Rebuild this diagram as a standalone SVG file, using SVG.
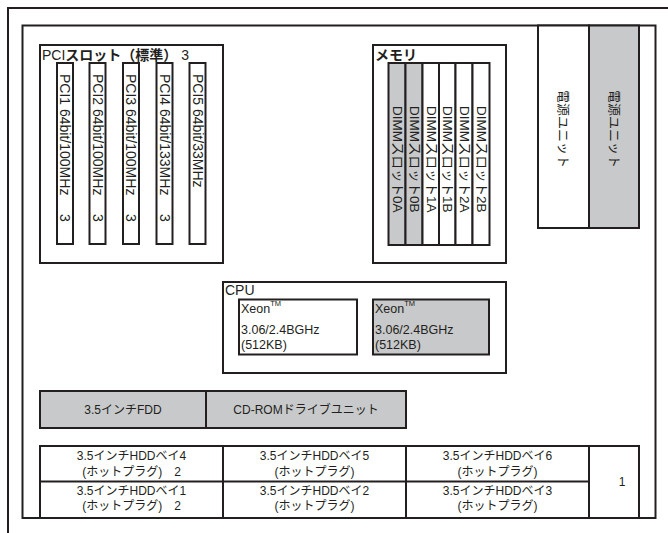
<svg xmlns="http://www.w3.org/2000/svg" width="668" height="533" viewBox="0 0 668 533">
<style>
text{font-family:"Liberation Sans","Noto Sans CJK JP",sans-serif;fill:#231f20}
.ln{fill:none;stroke:#231f20;stroke-width:2}
.bx{fill:#fff;stroke:#231f20;stroke-width:2}
.gr{fill:#c8c9ca;stroke:#231f20;stroke-width:2}
.dv{stroke:#231f20;stroke-width:2}
.v{font-size:14px;dominant-baseline:central}
.d{font-size:13.5px;dominant-baseline:central}
.p{font-size:13px;dominant-baseline:central}
.t{font-size:14px}
.s{font-size:12.5px}
.h{font-size:12px;text-anchor:middle}
.b{font-weight:bold}
</style>
<rect width="668" height="533" fill="#fff"/>
<g id="frame">
<polyline class="ln" points="8,533 8,8 668,8"/>
<rect class="ln" x="22.5" y="25.5" width="633" height="492.5"/>
</g>
<g id="connectors"/>
<g id="pci">
<rect class="bx" x="40" y="45" width="183" height="218"/>
<text class="t" x="42" y="60">PCI<tspan class="b">スロット（標準）</tspan> 3</text>
<rect class="bx" x="57" y="63" width="16" height="181"/>
<rect class="bx" x="89.5" y="63" width="16" height="181"/>
<rect class="bx" x="123" y="63" width="16" height="181"/>
<rect class="bx" x="156.5" y="63" width="16" height="181"/>
<rect class="bx" x="189.5" y="63" width="16" height="181"/>
<text class="v" transform="translate(65,74) rotate(90)">PCI1 64bit/100MHz<tspan x="140">3</tspan></text>
<text class="v" transform="translate(97.5,74) rotate(90)">PCI2 64bit/100MHz<tspan x="140">3</tspan></text>
<text class="v" transform="translate(131,74) rotate(90)">PCI3 64bit/100MHz<tspan x="140">3</tspan></text>
<text class="v" transform="translate(164.5,74) rotate(90)">PCI4 64bit/133MHz<tspan x="140">3</tspan></text>
<text class="v" transform="translate(197.5,74) rotate(90)">PCI5 64bit/33MHz</text>
</g>
<g id="memory">
<rect class="bx" x="373" y="45" width="133" height="218"/>
<text class="t b" x="375" y="60">メモリ</text>
<rect class="gr" x="388.5" y="63" width="17" height="182"/>
<rect class="gr" x="405.5" y="63" width="17" height="182"/>
<rect class="bx" x="422.5" y="63" width="16.5" height="182"/>
<rect class="bx" x="439" y="63" width="16.5" height="182"/>
<rect class="bx" x="455.5" y="63" width="17" height="182"/>
<rect class="bx" x="472.5" y="63" width="17" height="182"/>
<text class="d" transform="translate(397,106) rotate(90)">DIMMスロット0A</text>
<text class="d" transform="translate(414,106) rotate(90)">DIMMスロット0B</text>
<text class="d" transform="translate(431,106) rotate(90)">DIMMスロット1A</text>
<text class="d" transform="translate(447.5,106) rotate(90)">DIMMスロット1B</text>
<text class="d" transform="translate(464,106) rotate(90)">DIMMスロット2A</text>
<text class="d" transform="translate(481,106) rotate(90)">DIMMスロット2B</text>
</g>
<g id="power">
<rect class="bx" x="538" y="25.5" width="51" height="202.5"/>
<rect class="gr" x="589" y="25.5" width="50" height="202.5"/>
<text class="p" transform="translate(563.5,90) rotate(90)">電源ユニット</text>
<text class="p" transform="translate(614,90) rotate(90)">電源ユニット</text>
</g>
<g id="cpu">
<rect class="bx" x="223" y="282" width="283" height="91"/>
<text class="t" x="225" y="295">CPU</text>
<rect class="bx" x="239" y="299.5" width="118" height="55"/>
<rect class="gr" x="373" y="299.5" width="116" height="55"/>
<text class="s" x="241" y="313">Xeon<tspan font-size="7.5" dy="-7">TM</tspan></text>
<text class="s" x="241" y="334">3.06/2.4BGHz</text>
<text class="s" x="241" y="349">(512KB)</text>
<text class="s" x="375" y="313">Xeon<tspan font-size="7.5" dy="-7">TM</tspan></text>
<text class="s" x="375" y="334">3.06/2.4BGHz</text>
<text class="s" x="375" y="349">(512KB)</text>
</g>
<g id="drives">
<rect class="gr" x="40" y="391" width="366" height="37"/>
<line class="dv" x1="206" y1="391" x2="206" y2="428"/>
<text class="h" x="123" y="414">3.5インチFDD</text>
<text class="h" x="306" y="414">CD-ROMドライブユニット</text>
</g>
<g id="hdd">
<polyline class="ln" points="40,518 40,446 639,446 639,518"/>
<line class="dv" x1="223" y1="446" x2="223" y2="518"/>
<line class="dv" x1="406" y1="446" x2="406" y2="518"/>
<line class="dv" x1="589" y1="446" x2="589" y2="518"/>
<line class="dv" x1="40" y1="481.5" x2="589" y2="481.5"/>
<text class="h" x="131.5" y="460">3.5インチHDDベイ4</text>
<text class="h" x="131.5" y="476">(ホットプラグ)　2</text>
<text class="h" x="314.5" y="460">3.5インチHDDベイ5</text>
<text class="h" x="314.5" y="476">(ホットプラグ)</text>
<text class="h" x="497.5" y="460">3.5インチHDDベイ6</text>
<text class="h" x="497.5" y="476">(ホットプラグ)</text>
<text class="h" x="131.5" y="495">3.5インチHDDベイ1</text>
<text class="h" x="131.5" y="510">(ホットプラグ)　2</text>
<text class="h" x="314.5" y="495">3.5インチHDDベイ2</text>
<text class="h" x="314.5" y="510">(ホットプラグ)</text>
<text class="h" x="497.5" y="495">3.5インチHDDベイ3</text>
<text class="h" x="497.5" y="510">(ホットプラグ)</text>
<text class="h" x="622" y="486">1</text>
</g>
</svg>
